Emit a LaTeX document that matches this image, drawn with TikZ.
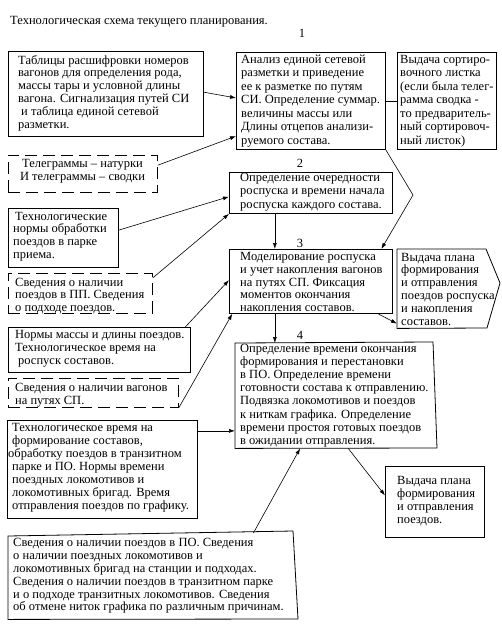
\documentclass[tikz,border=0pt]{standalone}
\usepackage{fontspec}
\setmainfont{Liberation Serif}
\usetikzlibrary{calc,arrows.meta}
\newcommand{\fsA}{\fontsize{12.5}{12.8}\selectfont}
\newcommand{\fsB}{\fontsize{12.5}{13.5}\selectfont}
\begin{document}
\begin{tikzpicture}[x=1pt,y=-1pt,
  frame/.style={draw, line width=0.8pt},
  box/.style={frame, anchor=north west, inner sep=0pt},
  dbox/.style={box, dash pattern=on 12pt off 6pt},
  ghost/.style={anchor=north west, inner sep=0pt, draw=none},
  tx/.style={anchor=west, align=left, inner sep=0pt, font=\fsA},
  txB/.style={tx, font=\fsB},
  arr/.style={-{Latex[length=6pt,width=4pt]}, line width=0.6pt},
  lnk/.style={line width=0.6pt},
  num/.style={inner sep=0pt, font=\fsA}
]
\useasboundingbox (0,0) rectangle (501,624);

% title and numbers
\node[tx] (title) at (10,22) {Технологическая схема текущего планирования.};
\node[num] (n1) at (302,33) {1};
\node[num] (n2) at (300,163) {2};
\node[num] (n3) at (300,243) {3};
\node[num] (n4) at (300,335) {4};

% frames
\node[box, minimum width=195pt, minimum height=85pt] (A) at (8,51) {};
\node[box, minimum width=149pt, minimum height=97pt] (B) at (236,52) {};
\node[box, minimum width=99pt, minimum height=97pt] (C) at (397,52) {};
\node[box, minimum width=163pt, minimum height=41pt] (D) at (229,172) {};
\node[box, minimum width=163pt, minimum height=64pt] (E) at (229,249) {};
\node[ghost, minimum width=90pt, minimum height=79pt] (F) at (397,249) {};
\draw[frame] (F.north west) -- (486,249) -- (500,283) -- (487,328) -- (F.south west) -- cycle;
\node[ghost, minimum width=200pt, minimum height=105pt] (G) at (235,343) {};
\draw[frame] (G.north west) -- (433,342) -- (437,448) -- (G.south west) -- cycle;
\node[box, minimum width=99pt, minimum height=71pt] (H) at (385,466) {};
\node[ghost, minimum width=290pt, minimum height=86pt] (I) at (8,533) {};
\draw[frame] (8,536) -- (293,531) -- (298,619) -- (I.south west) -- cycle;
\node[dbox, minimum width=149pt, minimum height=37pt] (J) at (8,155) {};
\node[box, minimum width=110pt, minimum height=59pt] (K) at (8,208) {};
\node[dbox, minimum width=144pt, minimum height=40pt] (L) at (8,273) {};
\node[box, minimum width=182pt, minimum height=45pt] (M) at (8,327) {};
\node[dbox, minimum width=170pt, minimum height=29pt] (N) at (8,378) {};
\node[box, minimum width=190pt, minimum height=98pt] (O) at (7,420) {};

% texts
\node[tx] (At) at (18,93) {Таблицы расшифровки номеров\\вагонов для определения рода,\\массы тары и условной длины\\вагона. Сигнализация путей СИ\\\hspace{3pt}и таблица единой сетевой\\разметки.};
\node[txB] (Bt) at (241,101) {Анализ единой сетевой\\разметки и приведение\\ее к разметке по путям\\СИ. Определение суммар.\\величины массы или\\Длины отцепов анализи-\\руемого состава.};
\node[txB] (Ct) at (400,101) {Выдача сортиро-\\вочного листка\\(если была телег-\\рамма сводка -\\то предваритель-\\ный сортировоч-\\ный листок)};
\node[txB] (Dt) at (240,192) {Определение очередности\\роспуска и времени начала\\роспуска каждого состава.};
\node[tx] (Et) at (240,282) {Моделирование роспуска\\и учет накопления вагонов\\на путях СП. Фиксация\\моментов окончания\\накопления составов.};
\node[tx] (Ft) at (401,289) {Выдача плана\\формирования\\и отправления\\поездов роспуска\\и накопления\\составов.};
\node[tx, font=\fontsize{12.5}{13.2}\selectfont] (Gt) at (240,395.5) {Определение времени окончания\\формирования и перестановки\\в ПО. Определение времени\\готовности состава к отправлению.\\Подвязка локомотивов и поездов\\к ниткам графика. Определение\\времени простоя готовых поездов\\в ожидании отправления.};
\node[tx] (Ht) at (397,501) {Выдача плана\\формирования\\и отправления\\поездов.};
\node[tx] (It) at (13,576) {Сведения о наличии поездов в ПО. Сведения\\о наличии поездных локомотивов и\\локомотивных бригад на станции и подходах.\\Сведения о наличии поездов в транзитном парке\\и о подходе транзитных локомотивов. Сведения\\об отмене ниток графика по различным причинам.};
\node[tx, anchor=center, align=center] (Jt) at (82.5,171) {Телеграммы – натурки\\И телеграммы – сводки};
\node[tx] (Kt) at (13,236.5) {\hspace{2pt}Технологические\\нормы обработки\\поездов в парке\\приема.};
\node[tx] (Lt) at (15,296) {Сведения о наличии\\поездов в ПП. Сведения\\о подходе поездов.};
\node[tx] (Mt) at (15,348.5) {Нормы массы и длины поездов.\\Технологическое время на\\\hspace{3pt}роспуск составов.};
\node[tx] (Nt) at (15,395) {Сведения о наличии вагонов\\на путях СП.};
\node[tx, font=\fontsize{12.5}{13}\selectfont] (Ot) at (8,467.5) {\hspace{4pt}Технологическое время на\\\hspace{4pt}формирование составов,\\обработку поездов в транзитном\\\hspace{4pt}парке и ПО. Нормы времени\\\hspace{4pt}поездных локомотивов и\\\hspace{4pt}локомотивных бригад. Время\\\hspace{4pt}отправления поездов по графику.};

% connectors
\draw[arr] ($(A.north east)!0.48!(A.south east)$) -- ($(B.north west)!0.47!(B.south west)$);
\draw[arr] ($(J.north east)!0.27!(J.south east)$) -- ($(B.north west)!0.86!(B.south west)$);
\draw[lnk] (B.east) -- (C.west);
\coordinate (bend) at (413,195);
\draw[arr] (B.south east) -- (bend) -- ($(E.north west)!0.93!(E.north east)$);
\draw[arr] ($(K.north east)!0.37!(K.south east)$) -- ($(D.north west)!0.59!(D.south west)$);
\draw[arr] ($(L.north east)!0.12!(L.south east)$) -- (D.south west);
\coordinate (d3) at ($(D.south west)!0.28!(D.south east)$);
\draw[arr] (d3) -- (d3 |- E.north);
\draw[arr] ($(M.north west)!0.97!(M.north east)$) -- ($(E.north west)!0.48!(E.south west)$);
\draw[arr] (N.south east) -- ($(E.south west)!0.02!(E.south east)$);
\draw[arr] ($(E.south west)!0.91!(E.south east)$) -- ($(F.north west)!0.94!(F.south west)$);
\coordinate (e4) at ($(E.south west)!0.28!(E.south east)$);
\draw[arr] (e4) -- (e4 |- G.north);
\coordinate (o4) at ($(O.north east)!0.11!(O.south east)$);
\draw[arr] (o4) -- (o4 -| G.west);
\draw[arr] ($(G.south west)!0.565!(G.south east)$) -- ($(H.north west)!0.41!(H.south west)$);
\draw[arr] ($(I.north west)!0.845!(I.north east)$) -- ($(G.south west)!0.325!(G.south east)$);
\end{tikzpicture}
\end{document}
